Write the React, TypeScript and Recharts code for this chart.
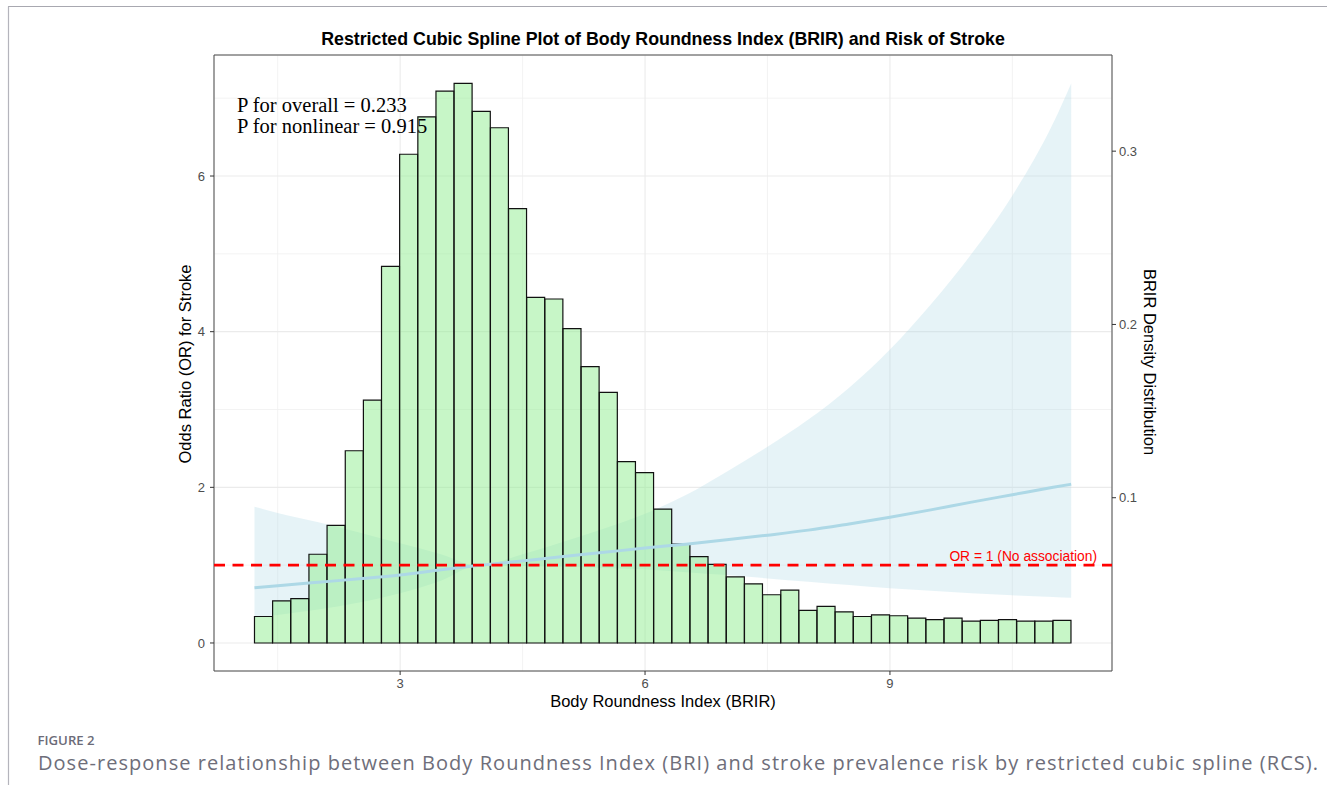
import React from "react";
import {
  ComposedChart,
  Bar,
  Area,
  Line,
  XAxis,
  YAxis,
  CartesianGrid,
  ReferenceLine,
  ReferenceArea,
} from "recharts";

// histogram of BRIR, bin centres and heights (drawn on the OR scale)
const binMids = [
  1.327, 1.549, 1.772, 1.994, 2.216, 2.439, 2.661, 2.883, 3.105, 3.328,
  3.55, 3.772, 3.995, 4.217, 4.439, 4.661, 4.884, 5.106, 5.328, 5.551,
  5.773, 5.995, 6.217, 6.44, 6.662, 6.884, 7.107, 7.329, 7.551, 7.774,
  7.996, 8.218, 8.44, 8.663, 8.885, 9.107, 9.33, 9.552, 9.774, 9.997,
  10.219, 10.441, 10.664, 10.886, 11.108,
];
const binHeights = [
  0.34, 0.54, 0.57, 1.14, 1.51, 2.47, 3.12, 4.84, 6.28, 6.76,
  7.09, 7.19, 6.83, 6.62, 5.58, 4.44, 4.42, 4.04, 3.55, 3.22,
  2.33, 2.19, 1.72, 1.27, 1.11, 1.01, 0.85, 0.76, 0.62, 0.68,
  0.42, 0.47, 0.4, 0.34, 0.36, 0.35, 0.32, 0.3, 0.32, 0.28,
  0.29, 0.3, 0.28, 0.28, 0.29,
];

// spline fit: odds ratio with 95% CI
const splineX = [
  1.216, 1.5, 2.0, 2.5, 3.0, 3.5, 3.95, 4.5, 5.0, 5.5, 6.0,
  6.5, 7.0, 7.5, 8.0, 8.5, 9.0, 9.5, 10.0, 10.5, 11.0, 11.22,
];
const splineOR = [
  0.71, 0.735, 0.78, 0.825, 0.875, 0.94, 0.995, 1.055, 1.11, 1.165, 1.22,
  1.27, 1.325, 1.385, 1.45, 1.53, 1.615, 1.71, 1.81, 1.905, 2.0, 2.04,
];
const splineLower = [
  0.32, 0.36, 0.43, 0.52, 0.64, 0.8, 0.995, 0.99, 0.978, 0.962, 0.943,
  0.91, 0.873, 0.83, 0.787, 0.745, 0.703, 0.67, 0.638, 0.612, 0.59, 0.58,
];
const splineUpper = [
  1.75, 1.67, 1.55, 1.42, 1.28, 1.14, 0.995, 1.14, 1.3, 1.47, 1.66,
  1.9, 2.2, 2.52, 2.87, 3.28, 3.77, 4.35, 5.0, 5.75, 6.68, 7.19,
];

const xTicks = [3, 6, 9];
const xMinor = [1.5, 4.5, 7.5, 10.5];
const orTicks = [0, 2, 4, 6];
const orMinor = [1, 3, 5, 7];
const densityTicks = [0.1, 0.2, 0.3];

const X_DOMAIN: [number, number] = [0.72, 11.72];
const OR_DOMAIN: [number, number] = [-0.36, 7.555];
const DENSITY_DOMAIN: [number, number] = [0, 0.3555];

const binData = binMids.map((mid, i) => ({ mid, h: binHeights[i] }));
const splineData = splineX.map((x, i) => ({
  x,
  or: splineOR[i],
  ci: [splineLower[i], splineUpper[i]],
}));

const SANS = "'Liberation Sans', Arial, sans-serif";
const tickStyle = { fill: "#4d4d4d", fontSize: 13, fontFamily: SANS };

const OrLabel = (props: any) => {
  const vb = props.viewBox || {};
  return (
    <text
      x={vb.x + vb.width - 15}
      y={vb.y - 4.5}
      textAnchor="end"
      fill="#ff0000"
      fontSize={13.8}
      fontFamily={SANS}
    >
      OR = 1 (No association)
    </text>
  );
};

export default function App() {
  return (
    <div style={{ position: "absolute", left: 0, top: 0, width: 1331, height: 789, background: "#fff" }}>
      <ComposedChart
        width={1331}
        height={789}
        data={binData}
        margin={{ top: 55, right: 174, bottom: 88, left: 174 }}
        barCategoryGap={0}
        barGap={0}
      >
        <XAxis
          xAxisId="main"
          type="number"
          dataKey="x"
          domain={X_DOMAIN}
          allowDataOverflow
          ticks={xTicks}
          height={30}
          axisLine={false}
          tickSize={4}
          tickMargin={4}
          tickLine={{ stroke: "#333" }}
          tick={tickStyle}
        />
        <XAxis
          xAxisId="bins"
          orientation="top"
          type="number"
          dataKey="mid"
          domain={X_DOMAIN}
          allowDataOverflow
          height={0}
          axisLine={false}
          tickLine={false}
          tick={false}
        />
        <YAxis
          yAxisId="or"
          type="number"
          domain={OR_DOMAIN}
          allowDataOverflow
          ticks={orTicks}
          width={40}
          axisLine={false}
          tickSize={4}
          tickMargin={5}
          tickLine={{ stroke: "#333" }}
          tick={tickStyle}
        />
        <YAxis
          yAxisId="density"
          orientation="right"
          type="number"
          domain={DENSITY_DOMAIN}
          allowDataOverflow
          ticks={densityTicks}
          width={45}
          axisLine={false}
          tickSize={4}
          tickMargin={3}
          tickLine={{ stroke: "#333" }}
          tick={tickStyle}
        />
        <CartesianGrid
          xAxisId="main"
          yAxisId="or"
          horizontalValues={orMinor}
          verticalValues={xMinor}
          stroke="#f0f0f0"
          strokeWidth={0.8}
        />
        <CartesianGrid xAxisId="main" yAxisId="or" stroke="#ebebeb" strokeWidth={1.1} />
        <Bar
          xAxisId="bins"
          yAxisId="or"
          dataKey="h"
          fill="#90ee90"
          fillOpacity={0.5}
          stroke="#111"
          strokeWidth={1.2}
          isAnimationActive={false}
        />
        <Area
          data={splineData}
          xAxisId="main"
          yAxisId="or"
          dataKey="ci"
          type="monotone"
          stroke="none"
          fill="#add8e6"
          fillOpacity={0.3}
          isAnimationActive={false}
        />
        <Line
          data={splineData}
          xAxisId="main"
          yAxisId="or"
          dataKey="or"
          type="monotone"
          stroke="#add8e6"
          strokeWidth={3}
          dot={false}
          isAnimationActive={false}
        />
        <ReferenceLine
          xAxisId="main"
          yAxisId="or"
          y={1}
          stroke="#ff0000"
          strokeWidth={2.8}
          strokeDasharray="11 7.5"
          label={OrLabel}
        />
        <ReferenceArea
          xAxisId="main"
          yAxisId="or"
          x1={X_DOMAIN[0]}
          x2={X_DOMAIN[1]}
          y1={OR_DOMAIN[0]}
          y2={OR_DOMAIN[1]}
          fill="none"
          stroke="#4d4d4d"
          strokeWidth={1}
        />
      </ComposedChart>
      <svg
        width={1331}
        height={789}
        style={{ position: "absolute", left: 0, top: 0, pointerEvents: "none" }}
      >
        <line x1={8} y1={6.5} x2={1327} y2={6.5} stroke="#a8a8b0" strokeWidth={1.2} />
        <line x1={8.5} y1={6.5} x2={8.5} y2={785} stroke="#b4b4bc" strokeWidth={1.2} />
        <text x={663} y={45} textAnchor="middle" fontFamily={SANS} fontWeight="bold" fontSize={17.8} fill="#000">
          Restricted Cubic Spline Plot of Body Roundness Index (BRIR) and Risk of Stroke
        </text>
        <text x={237} y={112.3} fontFamily="'Liberation Serif', 'Times New Roman', serif" fontSize={20.5} fill="#000">
          P for overall = 0.233
        </text>
        <text x={237} y={133.3} fontFamily="'Liberation Serif', 'Times New Roman', serif" fontSize={20.5} fill="#000">
          P for nonlinear = 0.915
        </text>
        <text x={663} y={707} textAnchor="middle" fontFamily={SANS} fontSize={16.5} fill="#000">
          Body Roundness Index (BRIR)
        </text>
        <text
          transform="translate(191 364) rotate(-90)"
          textAnchor="middle"
          fontFamily={SANS}
          fontSize={16.5}
          fill="#000"
        >
          Odds Ratio (OR) for Stroke
        </text>
        <text
          transform="translate(1144 362) rotate(90)"
          textAnchor="middle"
          fontFamily={SANS}
          fontSize={16.5}
          fill="#000"
        >
          BRIR Density Distribution
        </text>
        <text x={37.5} y={744.5} fontFamily="'Open Sans', sans-serif" fontWeight={600} fontSize={13.2} fill="#6b6b78">
          FIGURE 2
        </text>
        <text
          x={38}
          y={770}
          textLength={1280}
          fontFamily="'Open Sans', sans-serif"
          fontSize={20}
          fill="#6e6e7a"
        >
          Dose-response relationship between Body Roundness Index (BRI) and stroke prevalence risk by restricted cubic spline (RCS).
        </text>
      </svg>
    </div>
  );
}
